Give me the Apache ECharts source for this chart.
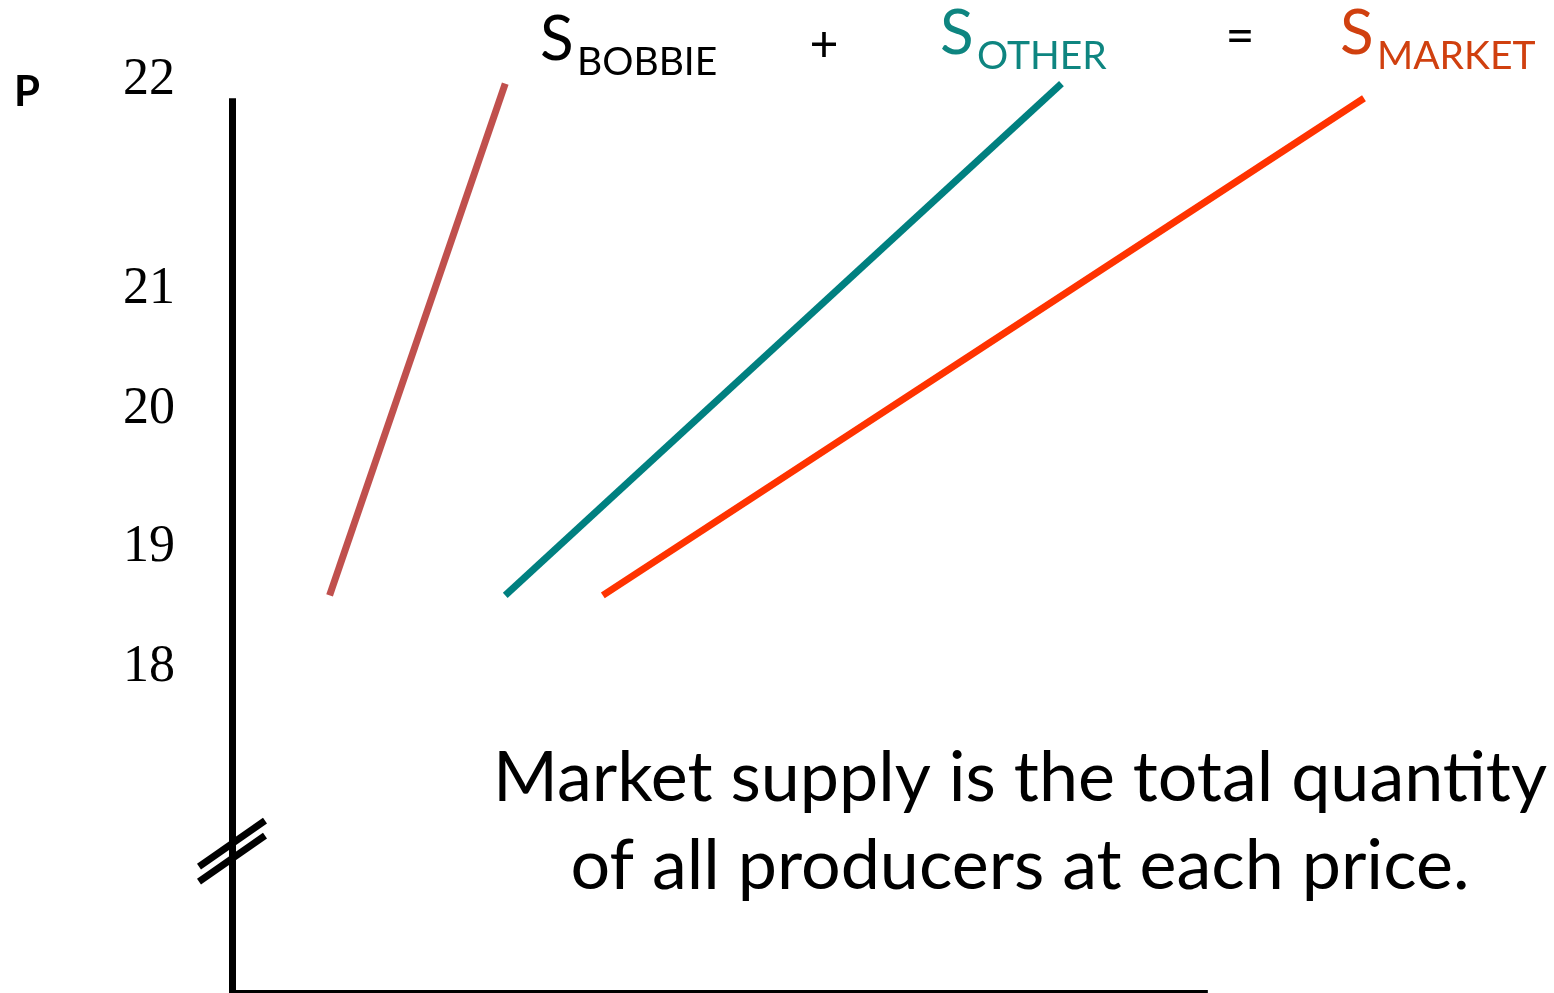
<!DOCTYPE html>
<html>
<head>
<meta charset="utf-8">
<script src="https://cdn.jsdelivr.net/npm/echarts@6.0.0/dist/echarts.min.js"></script>
<style>
  html, body { margin: 0; padding: 0; background: #fff; }
  #supply { width: 1554px; height: 993px; }
</style>
</head>
<body>
<div id="supply"></div>
<script>
// price axis labels as they sit on the slide (not evenly spaced)
const tickLabels = ['22', '21', '20', '19', '18'];
const tickAt = [22.02, 20.59, 19.77, 18.83, 18.01];

// quantity / price pairs for each supply curve
const bobbieQty = [10, 28];
const bobbiePrice = [18.5, 22];
const otherQty = [28, 85];
const otherPrice = [18.5, 22];
const marketQty = [38, 116];
const marketPrice = [18.5, 21.9];

const priceMin = 15.78;
const priceMax = 22.1;
const qtyMax = 120;
const axisTop = 21.9;   // where the drawn P axis stops
const axisRight = 100;  // where the drawn Q axis stops
const breakAt = 16.75;  // the // break on the P axis

function pairs(q, p) {
  return q.map((v, i) => [v, p[i]]);
}

let chartDom = document.getElementById('supply');
let myChart = echarts.init(chartDom, null, { renderer: 'canvas' });

const sans = 'Lato';
function txt(id, text, x, y, size, color, align) {
  return {
    type: 'text',
    id: id,
    x: x,
    y: y,
    silent: true,
    style: {
      text: text,
      fill: color,
      font: size + 'px ' + sans,
      fontSize: size,
      fontFamily: sans,
      align: align,
      textAlign: align,
      verticalAlign: 'middle',
      textVerticalAlign: 'middle'
    }
  };
}

function supplyLine(name, q, p, color) {
  return {
    name: name,
    type: 'line',
    data: pairs(q, p),
    symbol: 'none',
    clip: false,
    silent: true,
    animation: false,
    lineStyle: { color: color, width: 7, cap: 'butt' }
  };
}

const axisPen = { color: '#000', width: 7, type: 'solid' };

let option = {
  backgroundColor: '#fff',
  animation: false,
  // 100 on the quantity axis lands at x = 1208
  grid: { left: 232, right: 151, top: 69, bottom: 0 },
  xAxis: {
    type: 'value',
    min: 0,
    max: qtyMax,
    axisLine: { show: false },
    axisTick: { show: false },
    axisLabel: { show: false },
    splitLine: { show: false }
  },
  yAxis: {
    type: 'value',
    min: priceMin,
    max: priceMax,
    axisLine: { show: false },
    axisTick: { show: false },
    splitLine: { show: false },
    axisLabel: {
      show: true,
      customValues: tickAt,
      margin: 57,
      color: '#000',
      fontFamily: 'Liberation Serif',
      fontSize: 52,
      formatter: function (v) {
        let best = 0;
        tickAt.forEach((t, i) => {
          if (Math.abs(t - v) < Math.abs(tickAt[best] - v)) best = i;
        });
        return tickLabels[best];
      }
    }
  },
  series: [
    Object.assign(supplyLine('S BOBBIE', bobbieQty, bobbiePrice, '#C0504D'), {
      markLine: {
        silent: true,
        symbol: ['none', 'none'],
        label: { show: false },
        animation: false,
        lineStyle: axisPen,
        data: [
          [{ coord: [0, priceMin] }, { coord: [0, axisTop] }],
          [{ coord: [0, priceMin] }, { coord: [axisRight, priceMin] }]
        ]
      }
    }),
    supplyLine('S OTHER', otherQty, otherPrice, '#008080'),
    supplyLine('S MARKET', marketQty, marketPrice, '#FF3300')
  ],
  graphic: [
    txt('p', 'P', 14, 92, 42, '#000', 'left'),
    txt('sb', 'S', 540, 40, 62, '#000', 'left'),
    txt('sbsub', 'BOBBIE', 577, 62, 39, '#000', 'left'),
    txt('plus', '+', 824, 45, 50, '#000', 'center'),
    txt('so', 'S', 940, 34, 62, '#0E8580', 'left'),
    txt('sosub', 'OTHER', 977, 56, 39, '#0E8580', 'left'),
    txt('eq', '=', 1240, 37, 50, '#000', 'center'),
    txt('sm', 'S', 1340, 34, 62, '#D0400F', 'left'),
    txt('smsub', 'MARKET', 1377, 56, 39, '#D0400F', 'left'),
    {
      type: 'text',
      id: 'note',
      x: 1020,
      y: 822,
      silent: true,
      style: {
        text: 'Market supply is the total quantity\nof all producers at each price.',
        fill: '#000',
        fontSize: 70,
        fontFamily: sans,
        font: '70px ' + sans,
        lineHeight: 88,
        align: 'center',
        textAlign: 'center',
        verticalAlign: 'middle',
        textVerticalAlign: 'middle'
      }
    }
  ]
};
option.graphic[0].style.fontWeight = 'bold';
option.graphic[0].style.font = 'bold 42px ' + sans;

myChart.setOption(option, true);

// the // break marks on the P axis
let c = myChart.convertToPixel({ gridIndex: 0 }, [0, breakAt]);
function breakMark(id, dy) {
  return {
    type: 'line',
    id: id,
    silent: true,
    shape: { x1: c[0] - 33, y1: c[1] + dy + 23, x2: c[0] + 33, y2: c[1] + dy - 23 },
    style: { stroke: '#000', lineWidth: 7, lineCap: 'butt' }
  };
}
myChart.setOption({
  graphic: [breakMark('brk1', -7.5), breakMark('brk2', 7.5)]
});
</script>
</body>
</html>
